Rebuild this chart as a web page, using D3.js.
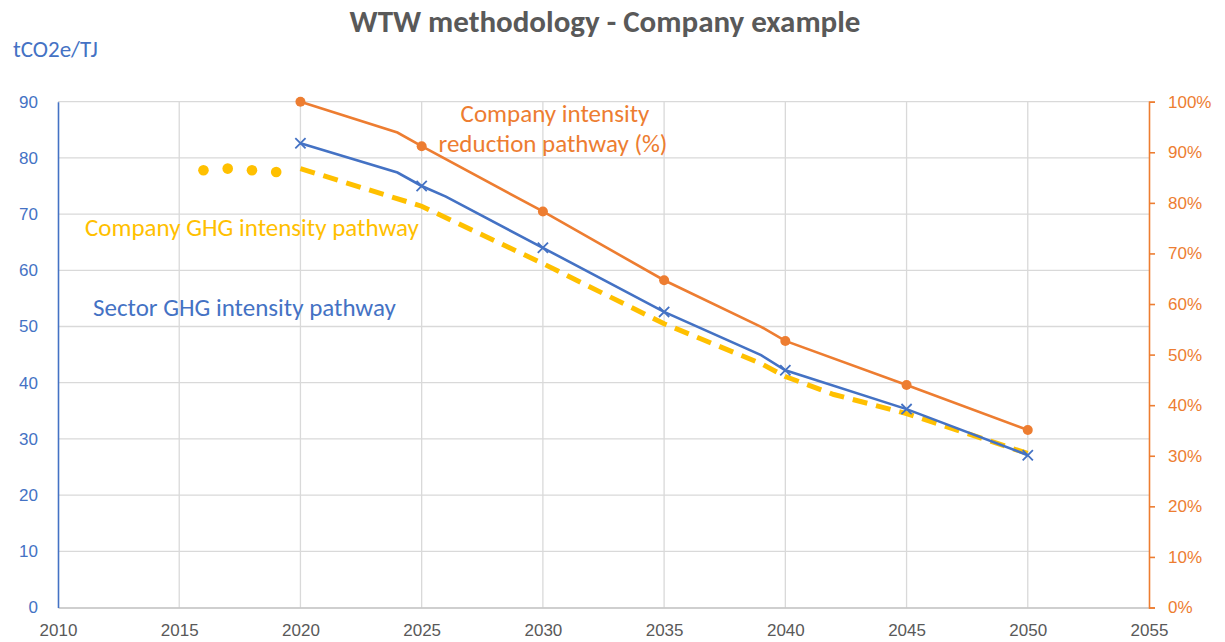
<!DOCTYPE html>
<html>
<head>
<meta charset="utf-8">
<script src="https://cdn.jsdelivr.net/npm/d3@7"></script>
<style>
  body { margin: 0; background: #fff; }
  svg { font-family: Carlito, Lato, "Liberation Sans", sans-serif; }
</style>
</head>
<body>
<div class="chart-wrapper"></div>
<script>
// values
var xTicks = [2010, 2015, 2020, 2025, 2030, 2035, 2040, 2045, 2050, 2055];
var leftTicks = [0, 10, 20, 30, 40, 50, 60, 70, 80, 90];
var rightTicks = [0, 0.1, 0.2, 0.3, 0.4, 0.5, 0.6, 0.7, 0.8, 0.9, 1];

var reductionYears = [2020, 2024, 2025, 2030, 2035, 2039, 2040, 2045, 2050];
var reductionPct = [1.00, 0.939, 0.912, 0.783, 0.647, 0.555, 0.527, 0.440, 0.351];

var sectorYears = [2020, 2024, 2025, 2026, 2030, 2035, 2039, 2040, 2045, 2050];
var sectorValues = [82.6, 77.4, 75.0, 73.1, 64.0, 52.6, 44.9, 42.2, 35.3, 27.1];

var historyYears = [2016, 2017, 2018, 2019];
var historyValues = [77.8, 78.1, 77.8, 77.5];

var companyYears = [2020, 2025, 2030, 2035, 2039, 2040, 2042, 2045, 2050];
var companyValues = [78.1, 71.4, 61.2, 50.5, 43.4, 41.1, 37.9, 34.5, 27.4];

var BLUE = "#4472C4", ORANGE = "#ED7D31", YELLOW = "#FFC000", GREY = "#595959", GRID = "#D9D9D9";

var canvas = d3.select(".chart-wrapper").append("svg").attr("width", 1225).attr("height", 642);

var x = d3.scaleLinear().domain([2010, 2055]).range([58, 1149]);
var yLeft = d3.scaleLinear().domain([0, 90]).range([607.5, 101.7]);
var yRight = d3.scaleLinear().domain([0, 1]).range([607.5, 101.7]);

// grid
canvas.append("g").selectAll("line").data(xTicks.slice(1, -1)).enter().append("line")
  .attr("x1", function(d) { return x(d); }).attr("x2", function(d) { return x(d); })
  .attr("y1", yLeft(90)).attr("y2", yLeft(0))
  .attr("stroke", GRID).attr("stroke-width", 1.3);
canvas.append("g").selectAll("line").data(leftTicks.slice(1)).enter().append("line")
  .attr("x1", x(2010)).attr("x2", x(2055))
  .attr("y1", function(d) { return yLeft(d); }).attr("y2", function(d) { return yLeft(d); })
  .attr("stroke", GRID).attr("stroke-width", 1.3);

// axes
var xAxis = canvas.append("g").attr("transform", "translate(0," + yLeft(0) + ")")
  .call(d3.axisBottom(x).tickValues(xTicks).tickFormat(d3.format("d")).tickSize(0).tickPadding(16));
xAxis.select(".domain").attr("stroke", "#BFBFBF").attr("stroke-width", 1.5);
xAxis.selectAll("text").attr("fill", GREY).style("font-size", "17px");

var leftAxis = canvas.append("g").attr("transform", "translate(" + x(2010) + ",0)")
  .call(d3.axisLeft(yLeft).tickValues(leftTicks).tickSize(0).tickPadding(20));
leftAxis.select(".domain").attr("stroke", BLUE).attr("stroke-width", 1.6);
leftAxis.selectAll("text").attr("fill", BLUE).style("font-size", "17px");

var rightAxis = canvas.append("g").attr("transform", "translate(" + x(2055) + ",0)")
  .call(d3.axisRight(yRight).tickValues(rightTicks).tickFormat(d3.format(".0%")).tickSizeInner(6).tickSizeOuter(6).tickPadding(13));
rightAxis.select(".domain").attr("stroke", ORANGE).attr("stroke-width", 1.6);
rightAxis.selectAll(".tick line").attr("stroke", ORANGE).attr("stroke-width", 1.6);
rightAxis.selectAll("text").attr("fill", ORANGE).style("font-size", "17px");

// lines
var lineLeft = d3.line().x(function(d) { return x(d[0]); }).y(function(d) { return yLeft(d[1]); });
var lineRight = d3.line().x(function(d) { return x(d[0]); }).y(function(d) { return yRight(d[1]); });

canvas.append("path").datum(d3.zip(reductionYears, reductionPct))
  .attr("d", lineRight).attr("fill", "none").attr("stroke", ORANGE).attr("stroke-width", 2.6);

canvas.append("path").datum(d3.zip(companyYears, companyValues))
  .attr("d", lineLeft).attr("fill", "none").attr("stroke", YELLOW)
  .attr("stroke-width", 5).attr("stroke-dasharray", "15,9");

canvas.append("path").datum(d3.zip(sectorYears, sectorValues))
  .attr("d", lineLeft).attr("fill", "none").attr("stroke", BLUE).attr("stroke-width", 2.6);

// historical company dots
canvas.append("g").selectAll("circle").data(d3.zip(historyYears, historyValues)).enter().append("circle")
  .attr("cx", function(d) { return x(d[0]); }).attr("cy", function(d) { return yLeft(d[1]); })
  .attr("r", 5.3).attr("fill", YELLOW);

// markers every 5 years
canvas.append("g").selectAll("circle").data(d3.zip(reductionYears, reductionPct).filter(function(d) { return d[0] % 5 === 0; }))
  .enter().append("circle")
  .attr("cx", function(d) { return x(d[0]); }).attr("cy", function(d) { return yRight(d[1]); })
  .attr("r", 5).attr("fill", ORANGE);

canvas.append("g").selectAll("path").data(d3.zip(sectorYears, sectorValues).filter(function(d) { return d[0] % 5 === 0; }))
  .enter().append("path")
  .attr("d", d3.symbol().type(d3.symbolX).size(70))
  .attr("transform", function(d) { return "translate(" + x(d[0]) + "," + yLeft(d[1]) + ")"; })
  .attr("fill", "none").attr("stroke", BLUE).attr("stroke-width", 1.8);

// labels
canvas.append("text").attr("x", 605).attr("y", 32).attr("text-anchor", "middle")
  .attr("fill", GREY).style("font-size", "31px").style("font-weight", "bold")
  .text("WTW methodology - Company example");
canvas.append("text").attr("x", 13).attr("y", 57).attr("fill", BLUE).style("font-size", "23px").text("tCO2e/TJ");

var orangeLabel = canvas.append("text").attr("fill", ORANGE).style("font-size", "25px").attr("text-anchor", "middle");
orangeLabel.append("tspan").attr("x", 555).attr("y", 122).text("Company intensity");
orangeLabel.append("tspan").attr("x", 553).attr("y", 152).text("reduction pathway (%)");

canvas.append("text").attr("x", 85).attr("y", 236).attr("fill", YELLOW).style("font-size", "25px")
  .text("Company GHG intensity pathway");
canvas.append("text").attr("x", 93).attr("y", 316).attr("fill", BLUE).style("font-size", "25px")
  .text("Sector GHG intensity pathway");
</script>
</body>
</html>
